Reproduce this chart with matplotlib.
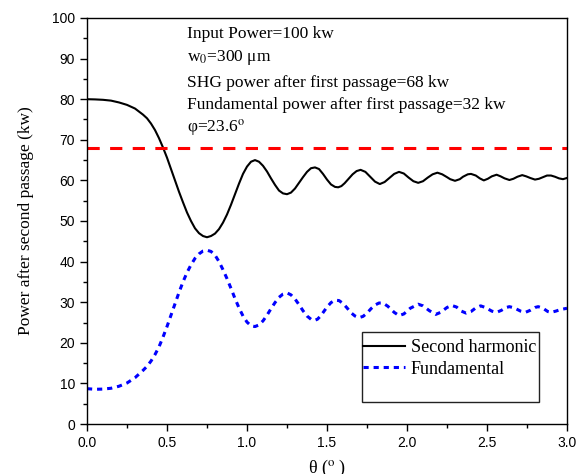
import matplotlib
matplotlib.use("Agg")
import matplotlib.pyplot as plt
from matplotlib.patches import Rectangle
from matplotlib.ticker import MultipleLocator

# ---------- Data ----------
theta_sh = [0.00, 0.05, 0.10, 0.15, 0.20, 0.25, 0.30, 0.35, 0.375, 0.40,
            0.425, 0.45, 0.475, 0.50, 0.525, 0.55, 0.575, 0.60, 0.625, 0.65,
            0.675, 0.70, 0.725, 0.75, 0.775, 0.80, 0.825, 0.85, 0.875, 0.90,
            0.925, 0.95, 0.975, 1.00, 1.025, 1.05, 1.075, 1.10, 1.125, 1.15,
            1.175, 1.20, 1.225, 1.25, 1.275, 1.30, 1.325, 1.35, 1.375, 1.40,
            1.425, 1.45, 1.475, 1.50, 1.525, 1.55, 1.57, 1.59, 1.61, 1.635,
            1.66, 1.685, 1.71, 1.74, 1.77, 1.80, 1.83, 1.86, 1.89, 1.92,
            1.95, 1.98, 2.01, 2.04, 2.07, 2.10, 2.13, 2.16, 2.19, 2.22,
            2.25, 2.27, 2.30, 2.33, 2.35, 2.38, 2.40, 2.43, 2.455, 2.48,
            2.505, 2.53, 2.56, 2.585, 2.61, 2.64, 2.665, 2.69, 2.72, 2.745,
            2.77, 2.80, 2.825, 2.85, 2.875, 2.90, 2.925, 2.95, 2.975, 3.00]
second_harmonic = [80.0, 79.95, 79.85, 79.65, 79.2, 78.6, 77.7, 76.2, 75.3, 74.0,
                   72.4, 70.4, 68.1, 65.6, 62.8, 60.0, 57.2, 54.6, 52.1, 50.0,
                   48.2, 47.0, 46.3, 46.0, 46.3, 46.9, 48.0, 49.6, 51.6, 54.0,
                   56.6, 59.2, 61.6, 63.4, 64.6, 65.0, 64.6, 63.6, 62.2, 60.5,
                   58.9, 57.5, 56.8, 56.6, 57.0, 58.0, 59.4, 60.8, 62.1, 63.0,
                   63.2, 62.8, 61.6, 60.2, 59.0, 58.4, 58.3, 58.6, 59.3, 60.4,
                   61.5, 62.3, 62.6, 62.1, 60.9, 59.7, 59.1, 59.6, 60.6, 61.6,
                   62.1, 61.7, 60.7, 59.8, 59.4, 59.8, 60.7, 61.5, 61.9, 61.5,
                   60.8, 60.3, 59.9, 60.3, 60.9, 61.5, 61.6, 61.2, 60.5, 60.0,
                   60.4, 61.0, 61.4, 61.0, 60.5, 60.1, 60.4, 60.9, 61.3, 61.0,
                   60.6, 60.2, 60.4, 60.8, 61.2, 61.2, 60.9, 60.5, 60.3, 60.6]

theta_fd = [0.00, 0.05, 0.10, 0.15, 0.20, 0.25, 0.30, 0.35, 0.375, 0.40,
            0.425, 0.45, 0.475, 0.50, 0.525, 0.55, 0.575, 0.60, 0.625, 0.65,
            0.675, 0.70, 0.725, 0.75, 0.775, 0.80, 0.825, 0.85, 0.875, 0.90,
            0.925, 0.95, 0.975, 1.00, 1.025, 1.05, 1.075, 1.10, 1.125, 1.15,
            1.175, 1.20, 1.225, 1.25, 1.275, 1.30, 1.325, 1.35, 1.375, 1.40,
            1.42, 1.44, 1.46, 1.48, 1.50, 1.525, 1.55, 1.575, 1.60, 1.625,
            1.65, 1.675, 1.70, 1.725, 1.75, 1.775, 1.80, 1.825, 1.85, 1.88,
            1.92, 1.95, 1.98, 2.02, 2.07, 2.10, 2.14, 2.18, 2.21, 2.25,
            2.28, 2.31, 2.34, 2.37, 2.40, 2.43, 2.46, 2.49, 2.53, 2.56,
            2.59, 2.62, 2.64, 2.67, 2.71, 2.74, 2.77, 2.80, 2.82, 2.85,
            2.88, 2.90, 2.93, 2.96, 3.00]
fundamental = [8.7, 8.55, 8.6, 8.8, 9.3, 10.1, 11.4, 13.2, 14.2, 15.5,
               17.1, 19.0, 21.4, 24.0, 26.8, 29.6, 32.4, 35.0, 37.3, 39.2,
               40.8, 41.9, 42.6, 42.8, 42.5, 41.6, 40.0, 38.0, 35.8, 33.4,
               30.9, 28.6, 26.6, 25.1, 24.2, 24.0, 24.4, 25.4, 26.8, 28.4,
               29.9, 31.2, 32.0, 32.3, 31.8, 30.8, 29.4, 27.9, 26.6, 25.8,
               25.5, 25.8, 26.6, 27.7, 28.8, 29.9, 30.5, 30.4, 29.7, 28.6,
               27.4, 26.6, 26.2, 26.5, 27.3, 28.4, 29.3, 29.8, 29.8, 29.0,
               27.5, 26.7, 27.1, 28.5, 29.5, 29.1, 27.9, 27.0, 27.5, 28.7,
               29.2, 28.8, 27.8, 27.3, 27.7, 28.6, 29.1, 28.7, 27.8, 27.5,
               28.0, 28.7, 28.9, 28.6, 27.8, 27.5, 28.0, 28.7, 28.9, 28.5,
               27.7, 27.5, 27.8, 28.2, 28.5]

SHG_FIRST = 68
ANNOT = ["Input Power=100 kw",
         "w$_0$=300 \u03bcm",
         "SHG power after first passage=68 kw",
         "Fundamental power after first passage=32 kw",
         "\u03c6=23.6$^{\\mathrm{o}}$"]
ANNOT_Y = [96.0, 90.2, 84.0, 78.6, 73.0]

# ---------- Style ----------
plt.rcParams.update({
    "font.family": "sans-serif",
    "font.sans-serif": ["Liberation Sans", "DejaVu Sans"],
    "font.size": 10,
    "mathtext.fontset": "stix",
})
SERIF = ["Liberation Serif", "DejaVu Serif"]

fig = plt.figure(figsize=(5.78, 4.74), dpi=100)
ax = fig.add_axes([87 / 578, 1 - 424 / 474, 480 / 578, 406 / 474])

ax.plot(theta_sh, second_harmonic, color="black", lw=1.5, label="Second harmonic")
ax.plot(theta_fd, fundamental, color="#0000FF", lw=2.2, ls=(0, (1.7, 1.6)),
        label="Fundamental")
ax.axhline(SHG_FIRST, color="#FF0000", lw=2.2, ls=(0, (4.0, 3.4)))

ax.set_xlim(0, 3.0)
ax.set_ylim(0, 100)
ax.xaxis.set_major_locator(MultipleLocator(0.5))
ax.xaxis.set_minor_locator(MultipleLocator(0.25))
ax.yaxis.set_major_locator(MultipleLocator(10))
ax.yaxis.set_minor_locator(MultipleLocator(5))
ax.xaxis.set_major_formatter(lambda v, p: f"{v:.1f}")
ax.tick_params(which="major", direction="out", length=5, width=1, pad=3.5, labelsize=10)
ax.tick_params(which="minor", direction="out", length=3, width=1)
for sp in ax.spines.values():
    sp.set_linewidth(1.0)

ax.set_xlabel("\u03b8 ($^{\\mathrm{o}}$ )", fontsize=13, family=SERIF)
ax.set_ylabel("Power after second passage (kw)", fontsize=12.5, family=SERIF)
ax.xaxis.set_label_coords(0.5, -0.084)
ax.yaxis.set_label_coords(-0.11, 0.5)

for s, yv in zip(ANNOT, ANNOT_Y):
    ax.text((187 - 87) / 480, yv, s, transform=ax.get_yaxis_transform(),
            fontsize=12.5, family=SERIF, ha="left", va="center")

# legend: frame drawn separately so it keeps the empty lower part
ax.add_patch(Rectangle(((362 - 87) / 480, (424 - 402) / 406), 177 / 480, 70 / 406,
                       transform=ax.transAxes, fill=False, lw=1.0, ec="#222222",
                       zorder=5))
ax.legend(loc="upper left", bbox_to_anchor=((363 - 87) / 480, (424 - 339) / 406),
          frameon=False, prop={"family": SERIF, "size": 13},
          handlelength=2.35, handletextpad=0.3, labelspacing=0.25,
          borderpad=0, borderaxespad=0)

fig.savefig("out.png", dpi=100)
